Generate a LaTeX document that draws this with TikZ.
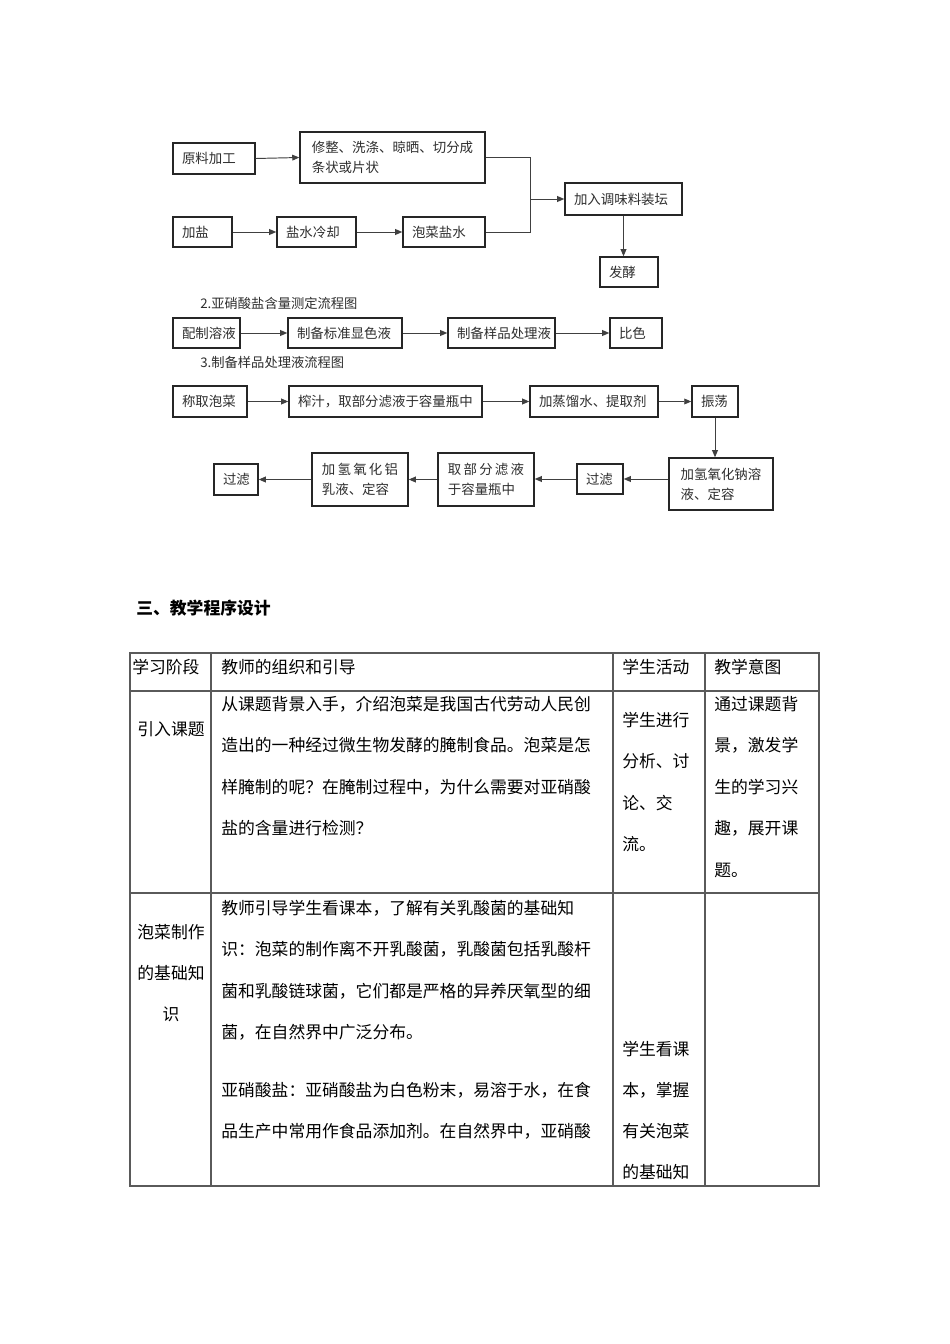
\documentclass[tikz,border=0pt]{standalone}
\usepackage{fontspec}
\setmainfont{Noto Sans CJK SC}
\usetikzlibrary{arrows.meta}
\newdimen\pxu \pxu=0.625pt
\newcommand\lft[2]{\makebox[\dimexpr#1\pxu-18\pxu\relax][l]{#2}}
\newcommand\gp{\hspace{1.4pt}}
\newcommand\flowfont{\fontsize{8.4}{12.5}\selectfont}
\newcommand\tabfont{\fontsize{10.5}{12}\selectfont}
\definecolor{boxc}{HTML}{262626}
\definecolor{linec}{HTML}{404040}
\definecolor{tabc}{HTML}{5A5A5A}
\definecolor{txtc}{HTML}{2E2E2E}

\begin{document}
\begin{tikzpicture}[
    x=0.625pt, y=-0.625pt,
    every node/.style={inner sep=0pt, text=txtc},
    blk/.style={draw=boxc, line width=0.9pt, minimum height=31*\pxu, font=\flowfont},
    tall/.style={blk, minimum height=53*\pxu, align=left},
    arr/.style={draw=linec, line width=0.6pt, -{Triangle[length=4.4pt, width=3.6pt]}},
    ln/.style={draw=linec, line width=0.6pt},
    tab/.style={draw=tabc, line width=0.75pt},
    txt/.style={anchor=west, font=\tabfont, text=black},
    mid/.style={font=\tabfont, text=black},
    ttl/.style={anchor=west, font=\fontsize{8.3}{10}\selectfont}
  ]
  \useasboundingbox (0,0) rectangle (950,1344);
  \fill[white] (0,0) rectangle (950,1344);

  \node[blk, minimum width=82*\pxu] (yl) at (214,158.5) {\lft{82}{原料加工}};
  \node[tall, minimum width=185*\pxu, minimum height=51*\pxu] (xz) at (392.5,157.5) {修整、洗涤、晾晒、切分成\\条状或片状};
  \node[blk, minimum width=59*\pxu, minimum height=30*\pxu] (js) at (202.5,232) {\lft{59}{加盐}};
  \node[blk, minimum width=79*\pxu, minimum height=30*\pxu] (ls) at (316.5,232) {\lft{79}{盐水冷却}};
  \node[blk, minimum width=82*\pxu, minimum height=30*\pxu] (ps) at (444,232) {\lft{82}{泡菜盐水}};
  \node[blk, minimum width=117*\pxu, minimum height=32*\pxu] (zt) at (623.5,199) {\lft{117}{加入调味料装坛}};
  \node[blk, minimum width=58*\pxu, minimum height=30*\pxu] (fj) at (629,272) {\lft{58}{发酵}};

  \coordinate (jt) at (530,157.5);
  \coordinate (jb) at (530,232);
  \coordinate (jm) at (530,199);
  \draw[arr] (yl.east) -- (xz.west);
  \draw[arr] (js.east) -- (ls.west);
  \draw[arr] (ls.east) -- (ps.west);
  \draw[ln] (xz.east) -- (jt) -- (jb) -- (ps.east);
  \draw[arr] (jm) -- (zt.west);
  \draw[arr] (zt.south) -- (zt.south |- fj.north);

  \node[ttl] (t2) at (200,303) {2.亚硝酸盐含量测定流程图};
  \node[blk, minimum width=67*\pxu, minimum height=30*\pxu] (pz) at (206.5,333) {\lft{67}{配制溶液}};
  \node[blk, minimum width=114*\pxu, minimum height=30*\pxu] (bz) at (345,333) {\lft{114}{制备标准显色液}};
  \node[blk, minimum width=107*\pxu, minimum height=30*\pxu] (yp) at (501.5,333) {\lft{107}{制备样品处理液}};
  \node[blk, minimum width=52*\pxu, minimum height=30*\pxu] (bs) at (636,333) {\lft{52}{比色}};
  \draw[arr] (pz.east) -- (bz.west);
  \draw[arr] (bz.east) -- (yp.west);
  \draw[arr] (yp.east) -- (bs.west);

  \node[ttl] (t3) at (200,362) {3.制备样品处理液流程图};
  \node[blk, minimum width=74*\pxu] (cq) at (210,401.5) {\lft{74}{称取泡菜}};
  \node[blk, minimum width=193*\pxu] (zz) at (385.5,401.5) {\lft{193}{榨汁，取部分滤液于容量瓶中}};
  \node[blk, minimum width=128*\pxu] (zl) at (594,401.5) {\lft{128}{加蒸馏水、提取剂}};
  \node[blk, minimum width=46*\pxu] (zd) at (715,401.5) {\lft{46}{振荡}};
  \node[tall, minimum width=104*\pxu, minimum height=52*\pxu] (nh) at (721,484) {加氢氧化钠溶\\液、定容};
  \node[blk, minimum width=46*\pxu, minimum height=30*\pxu] (gl2) at (600,479) {\lft{46}{过滤}};
  \node[tall, minimum width=96*\pxu] (qb) at (486,479.5) {取\gp 部\gp 分\gp 滤\gp 液\\于容量瓶中};
  \node[tall, minimum width=96*\pxu] (lv) at (360,479.5) {加\gp 氢\gp 氧\gp 化\gp 铝\\乳液、定容};
  \node[blk, minimum width=44*\pxu] (gl1) at (236,479.5) {\lft{44}{过滤}};
  \draw[arr] (cq.east) -- (zz.west);
  \draw[arr] (zz.east) -- (zl.west);
  \draw[arr] (zl.east) -- (zd.west);
  \draw[arr] (zd.south) -- (zd.south |- nh.north);
  \draw[arr] (nh.west |- gl2.east) -- (gl2.east);
  \draw[arr] (gl2.west) -- (gl2.west -| qb.east);
  \draw[arr] (qb.west) -- (lv.east);
  \draw[arr] (lv.west) -- (gl1.east);

  \node[anchor=west, font=\fontsize{10.5}{12}\selectfont\bfseries, text=black] (sec) at (136,608) {三、教学程序设计};

  \draw[tab] (130,653) rectangle (819,1186);
  \foreach \x in {211, 613, 705}
    \draw[tab] (\x,653) -- (\x,1186);
  \foreach \y in {691, 893}
    \draw[tab] (130,\y) -- (819,\y);

  \node[txt] (h1) at (132,667) {学习阶段};
  \node[txt] (h2) at (221,667) {教师的组织和引导};
  \node[txt] (h3) at (622,667) {学生活动};
  \node[txt] (h4) at (714,667) {教学意图};

  \node[mid] (s1) at (171,729) {引入课题};
  \foreach \t [count=\i] in {从课题背景入手，介绍泡菜是我国古代劳动人民创,造出的一种经过微生物发酵的腌制食品。泡菜是怎,样腌制的呢？在腌制过程中，为什么需要对亚硝酸,盐的含量进行检测？}
    \node[txt] (ga\i) at (221,{704+41.5*(\i-1)}) {\t};
  \foreach \t [count=\i] in {学生进行,分析、讨,论、交,流。}
    \node[txt] (xa\i) at (622,{720+41.5*(\i-1)}) {\t};
  \foreach \t [count=\i] in {通过课题背,景，激发学,生的学习兴,趣，展开课,题。}
    \node[txt] (ya\i) at (714,{704+41.5*(\i-1)}) {\t};

  \foreach \t [count=\i] in {泡菜制作,的基础知,识}
    \node[mid] (sb\i) at (171,{932+41*(\i-1)}) {\t};
  \foreach \y/\t [count=\i] in {908/教师引导学生看课本，了解有关乳酸菌的基础知,949.5/识：泡菜的制作离不开乳酸菌，乳酸菌包括乳酸杆,991/菌和乳酸链球菌，它们都是严格的异养厌氧型的细,1032.5/菌，在自然界中广泛分布。,1090/亚硝酸盐：亚硝酸盐为白色粉末，易溶于水，在食,1131/品生产中常用作食品添加剂。在自然界中，亚硝酸}
    \node[txt] (gb\i) at (221,\y) {\t};
  \foreach \t [count=\i] in {学生看课,本，掌握,有关泡菜,的基础知}
    \node[txt] (xb\i) at (622,{1049+41*(\i-1)}) {\t};
\end{tikzpicture}
\end{document}
